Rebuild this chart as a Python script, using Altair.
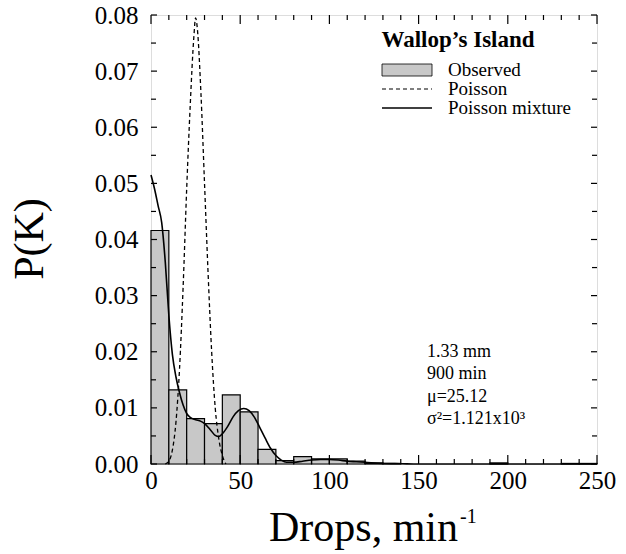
import altair as alt
import pandas as pd

# ---- data ----
bin_start = [0, 10, 20, 30, 40, 50, 60, 70, 80, 90, 100, 110, 120, 130, 190, 230, 240]
observed = [0.0416, 0.0132, 0.0081, 0.0072, 0.0123, 0.0093, 0.0026, 0.0006, 0.0013,
            0.0009, 0.0009, 0.0005, 0.0002, 0.0001, 0.0002, 0.0001, 0.0001]
bin_width = 10

poisson_k = [8, 10, 12, 14, 16, 18, 20, 22, 24, 25, 26, 28, 30, 32, 34, 36, 38, 40, 42]
poisson_p = [0.0, 0.0005, 0.0025, 0.0075, 0.0170, 0.0315, 0.0490, 0.0640, 0.0760, 0.0795,
             0.0775, 0.0660, 0.0500, 0.0340, 0.0200, 0.0100, 0.0045, 0.0015, 0.0]

mix_k = [0, 2, 4, 6, 8, 10, 12, 14, 16, 18, 20, 22, 25, 28, 30, 33, 36, 38, 40, 43, 46,
         49, 52, 55, 58, 61, 64, 67, 70, 73, 76, 80, 85, 90, 95, 100, 105, 110, 115, 120,
         130, 140, 150, 200, 250]
mix_p = [0.0515, 0.0490, 0.0460, 0.0430, 0.0360, 0.0265, 0.0195, 0.0155, 0.0127, 0.0105,
         0.0090, 0.0083, 0.0079, 0.0076, 0.0072, 0.0062, 0.0051, 0.0049, 0.0054, 0.0067,
         0.0084, 0.0095, 0.0099, 0.0095, 0.0083, 0.0065, 0.0046, 0.0028, 0.0015, 0.0007,
         0.0003, 0.0003, 0.0005, 0.0007, 0.0008, 0.0008, 0.0007, 0.0005, 0.0004, 0.0003,
         0.0001, 0.00005, 0.0, 0.0, 0.0]

x_ticks = [0, 50, 100, 150, 200, 250]
x_minor = [10, 20, 30, 40, 60, 70, 80, 90, 110, 120, 130, 140, 160, 170, 180, 190,
           210, 220, 230, 240]
y_ticks = [0.0, 0.01, 0.02, 0.03, 0.04, 0.05, 0.06, 0.07, 0.08]
y_minor = [0.005, 0.015, 0.025, 0.035, 0.045, 0.055, 0.065, 0.075]

x_title = "Drops, min"
x_title_sup = "-1"
y_title = "P(K)"
legend_title = "Wallop\u2019s Island"
legend_labels = ["Observed", "Poisson", "Poisson mixture"]
notes = ["1.33 mm", "900 min", "\u03bc=25.12", "\u03c3\u00b2=1.121x10\u00b3"]

W, H = 446, 449
FONT = "Liberation Serif"

bars_df = pd.DataFrame({"lo": bin_start, "p": observed})
bars_df["hi"] = bars_df["lo"] + bin_width
pois_df = pd.DataFrame({"k": poisson_k, "p": poisson_p})
mix_df = pd.DataFrame({"k": mix_k, "p": mix_p})

xscale = alt.Scale(domain=[0, 250], nice=False, zero=False)
yscale = alt.Scale(domain=[0, 0.08], nice=False)

x_axis = alt.Axis(values=x_ticks, format="d", ticks=False, domain=False, grid=False,
                  labelFont=FONT, labelFontSize=25, labelColor="black", labelPadding=4,
                  labelFlush=False, labelOverlap=False, title=None)
y_axis = alt.Axis(values=y_ticks, format=".2f", ticks=False, domain=False, grid=False,
                  labelFont=FONT, labelFontSize=25, labelColor="black", labelPadding=13,
                  labelFlush=False, labelOverlap=False, title=None)


def X(field):
    return alt.X(field, scale=xscale, axis=x_axis)


def Y(field):
    return alt.Y(field, scale=yscale, axis=y_axis)


bars = alt.Chart(bars_df).mark_rect(fill="#c8c8c8", stroke="black", strokeWidth=1.2).encode(
    x=X("lo:Q"), x2="hi:Q", y=Y("p:Q"), y2=alt.datum(0),
)

pois = alt.Chart(pois_df).mark_line(color="black", strokeWidth=1.3, strokeDash=[4, 3],
                                    interpolate="monotone").encode(
    x=X("k:Q"), y=Y("p:Q"),
)

mix = alt.Chart(mix_df).mark_line(color="black", strokeWidth=1.6,
                                  interpolate="monotone").encode(
    x=X("k:Q"), y=Y("p:Q"),
)


def xtick_layer(vals, y0, y1):
    return alt.Chart(pd.DataFrame({"v": vals})).mark_rule(color="black", strokeWidth=1.2).encode(
        x=X("v:Q"), y=alt.value(y0), y2=alt.value(y1))


def ytick_layer(vals, x0, x1):
    return alt.Chart(pd.DataFrame({"v": vals})).mark_rule(color="black", strokeWidth=1.2).encode(
        y=Y("v:Q"), x=alt.value(x0), x2=alt.value(x1))


ticks = [
    xtick_layer(x_ticks, H, H - 9), xtick_layer(x_minor, H, H - 5),
    xtick_layer(x_ticks, 0, 9), xtick_layer(x_minor, 0, 5),
    ytick_layer(y_ticks, 0, 6), ytick_layer(y_minor, 0, 5),
    ytick_layer(y_ticks, W, W - 6), ytick_layer(y_minor, W, W - 5),
]

one = pd.DataFrame({"a": [0]})


def text_layer(t, x, y, size, weight="normal", align="left", baseline="middle", angle=0):
    return alt.Chart(one).mark_text(font=FONT, fontSize=size, fontWeight=weight,
                                    align=align, baseline=baseline, color="black",
                                    angle=angle).encode(
        x=alt.value(x), y=alt.value(y), text=alt.value(t))


title_layers = [
    text_layer(x_title, 118, 526, 42, baseline="alphabetic"),
    text_layer(x_title_sup, 309, 508, 20, baseline="alphabetic"),
    text_layer(y_title, -121, 224, 42, align="center", angle=270),
]

LY = [55, 74, 93]
legend_layers = [
    text_layer(legend_title, 307, 25, 23, weight="bold", align="center"),
    alt.Chart(one).mark_rect(fill="#c8c8c8", stroke="black", strokeWidth=0.8).encode(
        x=alt.value(231), x2=alt.value(281), y=alt.value(LY[0] - 6), y2=alt.value(LY[0] + 6)),
    alt.Chart(one).mark_rule(color="black", strokeWidth=1.2, strokeDash=[4, 3]).encode(
        x=alt.value(231), x2=alt.value(281), y=alt.value(LY[1])),
    alt.Chart(one).mark_rule(color="black", strokeWidth=1.4).encode(
        x=alt.value(231), x2=alt.value(281), y=alt.value(LY[2])),
    text_layer(legend_labels[0], 297, LY[0], 19),
    text_layer(legend_labels[1], 297, LY[1], 19),
    text_layer(legend_labels[2], 297, LY[2], 19),
]

note_layers = [text_layer(t, 276, yy, 18) for t, yy in zip(notes, [337, 359, 382, 404])]

chart = alt.layer(bars, pois, mix, *ticks, *title_layers, *legend_layers, *note_layers).properties(
    width=W, height=H,
    padding={"left": 151, "top": 15, "right": 29, "bottom": 90},
    autosize=alt.AutoSizeParams(type="none"),
).configure_view(stroke="black", strokeWidth=2.2).configure_axis(
    labelFont=FONT, titleFont=FONT
).configure(background="white", font=FONT)

chart.save("out.html", embed_options={"renderer": "svg", "actions": False})
